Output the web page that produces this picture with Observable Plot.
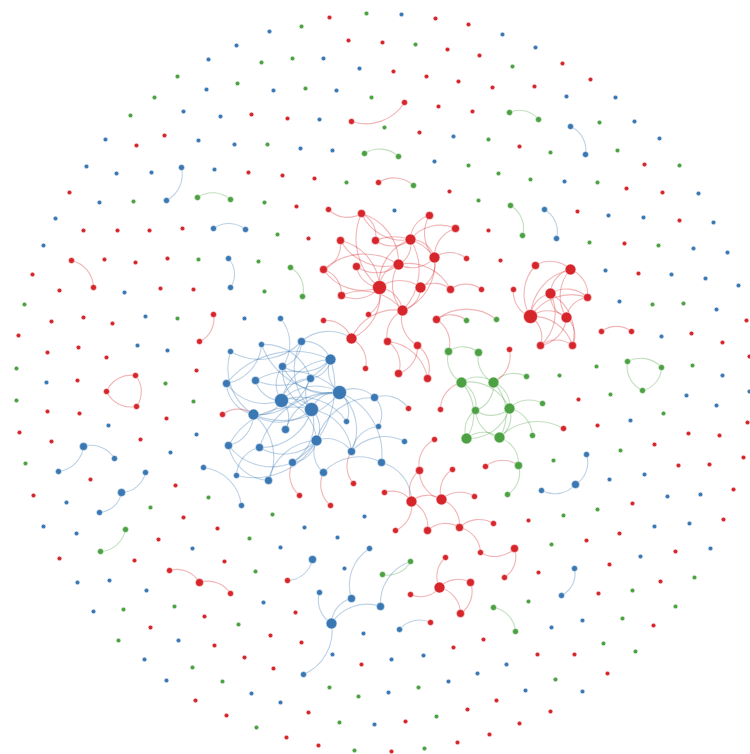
<!DOCTYPE html>
<html>
<head>
<meta charset="utf-8">
<script src="https://cdn.jsdelivr.net/npm/d3@7"></script>
<script src="https://cdn.jsdelivr.net/npm/@observablehq/plot@0.6"></script>
<style>
  html, body { margin: 0; padding: 0; background: #fff; }
  #chart svg { display: block; }
</style>
</head>
<body>
<div id="chart"></div>
<script>
// Force-layout positions of each node, grouped by community: [x, y, weight]
// weight: 1 = isolated, 2..5 = increasingly connected
const redNodes = [
  [164,135,1],[136,145,1],[248,172,1],[69,192,1],[83,230,1],[117,230,1],[149,230,1],[182,228,1],[251,114,1],
  [329,17,1],[435,18,1],[468,24,1],[348,40,1],[382,42,1],[447,49,1],[479,55,1],[393,71,1],[426,76,1],[458,81,1],[492,87,1],
  [438,106,1],[472,111,1],[287,118,1],[419,132,1],[282,175,1],[314,178,1],[449,191,1],[296,206,1],[308,238,1],[488,230,1],
  [562,63,1],[590,79,1],[534,86,1],[519,146,1],[644,164,1],[626,188,1],[662,192,1],[577,211,1],[679,220,1],[624,243,1],[500,260,1],
  [32,274,1],[104,259,1],[135,262,1],[167,258,1],[59,290,1],[160,288,1],[193,289,1],[51,321,1],[83,317,1],[112,323,1],[18,335,1],
  [47,352,1],[78,347,1],[106,357,1],[77,380,1],[196,370,1],[47,411,1],[79,413,1],[166,418,1],[19,432,1],[51,441,1],[140,439,1],
  [90,479,1],[33,495,1],[175,485,1],
  [638,273,1],[746,320,1],[691,333,1],[722,342,1],[749,356,1],[578,399,1],[747,422,1],[597,425,1],[688,433,1],[719,435,1],
  [654,444,1],[678,465,1],[709,464,1],[743,457,1],[733,489,1],[632,503,1],
  [183,517,1],[217,528,1],[158,539,1],[59,558,1],[134,560,1],[224,561,1],[204,616,1],[150,627,1],[214,645,1],[244,657,1],[195,700,1],[226,715,1],
  [295,612,1],[270,635,1],[301,642,1],[483,639,1],[453,647,1],[273,668,1],[361,664,1],[496,700,1],[308,712,1],[467,709,1],
  [405,721,1],[489,734,1],[286,737,1],[318,745,1],[391,751,1],[457,742,1],
  [528,520,1],[723,519,1],[619,533,1],[586,540,1],[675,551,1],[609,564,1],[538,572,1],[660,581,1],[598,593,1],[653,625,1],
  [537,654,1],[574,654,1],[607,673,1],[550,711,1],[519,723,1],
  [404,102,2],[351,121,2],[378,182,2],[71,260,2],[93,287,2],[213,314,2],[199,341,2],[106,391,2],[135,375,2],[136,406,2],
  [222,414,2],[601,331,2],[631,331,2],[169,570,2],[230,593,2],[287,580,2],[430,622,2],[504,577,2],[480,552,2],[445,557,2],
  [410,594,2],[395,530,2],[493,523,2],[328,209,2],[481,289,2],[368,314,2],[323,320,2],[365,368,2],[408,408,2],[440,409,2],
  [434,439,2],[452,469,2],[353,483,2],[299,495,2],[384,492,2],[330,505,2],[474,496,2],[485,466,2],[509,349,2],[563,428,2],
  [466,258,2],[513,289,2],
  [199,582,3],[361,213,3],[429,215,3],[455,228,3],[340,240,3],[375,240,3],[323,269,3],[356,266,3],[450,289,3],[341,295,3],
  [436,319,3],[387,341,3],[417,345,3],[398,373,3],[427,378,3],[427,530,3],[459,527,3],[514,548,3],[470,582,3],[460,613,3],
  [535,265,3],[587,297,3],[540,345,3],[572,345,3],[419,470,3],
  [410,239,4],[398,264,4],[434,257,4],[420,287,4],[402,310,4],[351,338,4],[411,501,4],[441,499,4],[439,587,4],[570,269,4],
  [550,293,4],[566,317,4],
  [379,287,5],[530,316,5]
];

const blueNodes = [
  [236,45,1],[208,59,1],[206,89,1],[183,111,1],[220,116,1],[105,139,1],[198,140,1],[234,144,1],[86,166,1],[116,173,1],
  [151,172,1],[214,169,1],[99,202,1],[55,218,1],[43,245,1],
  [401,14,1],[269,31,1],[323,58,1],[359,68,1],[273,90,1],[336,90,1],[319,119,1],[453,136,1],[300,148,1],[332,150,1],[434,161,1],[394,210,1],
  [502,34,1],[535,47,1],[566,96,1],[615,97,1],[634,121,1],[659,138,1],[564,181,1],[698,193,1],[608,215,1],[643,217,1],[713,222,1],[693,248,1],[727,252,1],
  [124,292,1],[145,316,1],[244,318,1],[137,345,1],[167,350,1],[46,382,1],[108,425,1],[196,434,1],[170,452,1],[66,502,1],
  [605,270,1],[671,274,1],[705,278,1],[738,285,1],[619,301,1],[716,309,1],[661,336,1],[722,375,1],[749,391,1],[686,395,1],
  [716,405,1],[630,420,1],[609,479,1],[644,474,1],[667,496,1],[700,494,1],
  [43,526,1],[76,533,1],[192,548,1],[77,582,1],[109,580,1],[146,590,1],[93,611,1],[178,640,1],[144,659,1],[166,680,1],[251,693,1],
  [364,516,1],[304,527,1],[337,537,1],[280,547,1],[344,568,1],[263,602,1],[363,633,1],[332,654,1],[391,659,1],[423,655,1],
  [477,673,1],[448,681,1],[280,702,1],[388,692,1],[374,724,1],
  [654,526,1],[689,523,1],[710,548,1],[640,556,1],[582,620,1],[551,627,1],[506,664,1],[525,690,1],[582,691,1],
  [181,167,2],[166,200,2],[213,228,2],[245,229,2],[570,126,2],[585,154,2],[544,209,2],[556,238,2],[228,258,2],[230,287,2],
  [114,458,2],[58,471,2],[203,467,2],[145,472,2],[99,512,2],[586,454,2],[541,490,2],[574,568,2],[561,595,2],[369,548,2],
  [319,592,2],[399,629,2],[303,674,2],[230,351,2],[241,505,2],[261,344,2],[236,475,2],[346,421,2],[378,426,2],[404,441,2],[280,318,2],
  [83,446,3],[121,492,3],[575,484,3],[312,559,3],[351,598,3],[380,606,3],[226,383,3],[255,380,3],[228,445,3],[259,447,3],
  [268,480,3],[301,341,3],[282,366,3],[310,378,3],[374,397,3],[285,429,3],[351,451,3],[292,462,3],[381,462,3],[323,472,3],
  [331,623,4],[253,414,4],[330,359,4],[316,440,4],
  [339,392,5],[281,400,5],[311,409,5]
];

const greenNodes = [
  [177,76,1],[237,83,1],[154,97,1],[130,115,1],[133,201,1],
  [366,13,1],[301,26,1],[415,44,1],[261,62,1],[292,58,1],[305,88,1],[371,97,1],[384,127,1],[488,139,1],[267,144,1],
  [468,165,1],[498,173,1],[346,182,1],[264,202,1],[478,200,1],[277,234,1],
  [512,66,1],[599,122,1],[550,152,1],[617,150,1],[679,165,1],[530,179,1],[597,182,1],[589,242,1],[658,245,1],
  [198,259,1],[24,304,1],[177,318,1],[16,368,1],[165,383,1],[16,400,1],[193,401,1],[25,463,1],[208,497,1],[258,261,1],[264,291,1],
  [652,304,1],[683,303,1],[596,366,1],[692,365,1],[610,394,1],[663,413,1],[620,450,1],[553,460,1],[559,375,1],
  [150,507,1],[249,538,1],[174,606,1],[123,609,1],[238,624,1],[118,640,1],[192,667,1],[222,681,1],
  [272,514,1],[255,571,1],[329,687,1],[418,687,1],[358,696,1],[436,716,1],[256,727,1],[339,722,1],[354,750,1],[424,748,1],
  [597,509,1],[563,515,1],[551,544,1],[694,577,1],[632,590,1],[528,601,1],[675,606,1],[622,618,1],[603,643,1],[635,651,1],[555,679,1],
  [197,197,2],[230,199,2],[364,153,2],[398,156,2],[413,185,2],[509,112,2],[538,119,2],[510,205,2],[522,235,2],[290,267,2],
  [302,296,2],[627,361,2],[661,367,2],[642,390,2],[125,529,2],[100,551,2],[410,561,2],[382,574,2],[493,607,2],[515,631,2],
  [466,320,2],[496,319,2],[526,376,2],[542,403,2],[532,435,2],[507,494,2],
  [448,351,3],[478,352,3],[475,410,3],[518,465,3],
  [461,382,4],[493,382,4],[509,408,4],[466,438,4],[499,437,4]
];

// Edges, as [source, target] node keys "x,y"; an edge takes its source's colour
const edgePairs = [
  // small components
  ["404,102","351,121"],["364,153","398,156"],["378,182","413,185"],["181,167","166,200"],["197,197","230,199"],
  ["213,228","245,229"],["509,112","538,119"],["570,126","585,154"],["510,205","522,235"],["544,209","556,238"],
  ["71,260","93,287"],["228,258","230,287"],["213,314","199,341"],
  ["106,391","135,375"],["135,375","136,406"],["136,406","106,391"],
  ["290,267","302,296"],["601,331","631,331"],
  ["627,361","661,367"],["661,367","642,390"],["642,390","627,361"],
  ["83,446","114,458"],["83,446","58,471"],["145,472","121,492"],["121,492","99,512"],["125,529","100,551"],
  ["169,570","199,582"],["199,582","230,593"],["586,454","575,484"],["575,484","541,490"],["574,568","561,595"],
  ["312,559","287,580"],["331,623","319,592"],["331,623","351,598"],["331,623","380,606"],["331,623","303,674"],
  ["351,598","369,548"],["380,606","410,561"],["410,561","382,574"],["399,629","430,622"],
  ["514,548","504,577"],["514,548","480,552"],["203,467","241,505"],["493,607","515,631"],
  ["436,319","466,320"],["436,319","496,319"],["436,319","448,351"],["323,320","351,338"],
  // blue community
  ["281,400","311,409"],["281,400","339,392"],["311,409","339,392"],["281,400","253,414"],["281,400","255,380"],
  ["281,400","282,366"],["281,400","310,378"],["281,400","285,429"],["281,400","316,440"],["281,400","226,383"],["281,400","330,359"],
  ["311,409","301,341"],["311,409","310,378"],["311,409","316,440"],["311,409","253,414"],["311,409","259,447"],
  ["311,409","351,451"],["311,409","282,366"],["311,409","292,462"],
  ["339,392","330,359"],["339,392","374,397"],["339,392","346,421"],["339,392","253,414"],["339,392","282,366"],
  ["339,392","261,344"],["339,392","351,451"],["339,392","381,462"],
  ["253,414","226,383"],["253,414","228,445"],["253,414","268,480"],["253,414","230,351"],
  ["330,359","282,366"],["330,359","255,380"],["330,359","310,378"],["330,359","292,462"],
  ["316,440","259,447"],["316,440","292,462"],["316,440","351,451"],["316,440","236,475"],
  ["261,344","226,383"],["301,341","282,366"],["301,341","230,351"],["280,318","282,366"],
  ["374,397","378,426"],["351,451","404,441"],["292,462","228,445"],["268,480","228,445"],["236,475","259,447"],
  ["323,472","316,440"],["381,462","411,501"],["374,397","408,408"],["301,341","351,338"],
  ["226,383","330,359"],["255,380","339,392"],["228,445","311,409"],["259,447","339,392"],["285,429","339,392"],
  ["310,378","253,414"],["261,344","310,378"],["301,341","330,359"],["316,440","374,397"],["351,451","378,426"],
  ["281,400","346,421"],["323,472","381,462"],["268,480","316,440"],
  ["330,505","323,472"],["299,495","292,462"],["353,483","351,451"],["222,414","253,414"],
  // upper red community
  ["379,287","323,269"],["379,287","341,295"],["379,287","356,266"],["379,287","361,213"],["379,287","398,264"],
  ["379,287","420,287"],["379,287","402,310"],["379,287","368,314"],["379,287","351,338"],["379,287","410,239"],
  ["410,239","361,213"],["410,239","429,215"],["410,239","455,228"],["410,239","375,240"],["410,239","398,264"],
  ["410,239","434,257"],["410,239","402,310"],
  ["434,257","455,228"],["434,257","398,264"],["434,257","420,287"],["434,257","402,310"],["434,257","429,215"],["434,257","466,258"],
  ["398,264","340,240"],["398,264","356,266"],["398,264","450,289"],["420,287","450,289"],["450,289","481,289"],
  ["361,213","328,209"],["361,213","375,240"],["340,240","323,269"],["323,269","341,295"],["402,310","398,264"],
  ["361,213","398,264"],["375,240","434,257"],["340,240","379,287"],["323,269","398,264"],["420,287","402,310"],["341,295","402,310"],
  ["351,338","365,368"],["351,338","402,310"],
  ["387,341","402,310"],["387,341","427,378"],["387,341","398,373"],["417,345","398,373"],["417,345","427,378"],["417,345","402,310"],
  // right red community
  ["530,316","535,265"],["530,316","550,293"],["530,316","570,269"],["530,316","566,317"],["530,316","540,345"],
  ["530,316","572,345"],["530,316","587,297"],["530,316","513,289"],
  ["566,317","550,293"],["566,317","570,269"],["566,317","587,297"],["566,317","540,345"],["566,317","572,345"],
  ["550,293","570,269"],["550,293","587,297"],["550,293","540,345"],["550,293","572,345"],
  ["535,265","570,269"],["570,269","587,297"],["540,345","572,345"],
  // green community
  ["461,382","493,382"],["461,382","475,410"],["461,382","509,408"],["461,382","466,438"],["461,382","448,351"],["440,409","461,382"],
  ["493,382","509,408"],["493,382","475,410"],["493,382","499,437"],["493,382","526,376"],["493,382","478,352"],["509,349","493,382"],
  ["509,408","475,410"],["509,408","466,438"],["509,408","499,437"],["509,408","542,403"],["509,408","532,435"],
  ["466,438","475,410"],["466,438","499,437"],["499,437","518,465"],["499,437","475,410"],["499,437","563,428"],
  ["448,351","478,352"],["485,466","518,465"],["518,465","507,494"],
  // lower red community
  ["411,501","419,470"],["419,470","434,439"],["411,501","441,499"],["441,499","452,469"],["441,499","419,470"],
  ["441,499","459,527"],["411,501","427,530"],["427,530","459,527"],["459,527","493,523"],["459,527","480,552"],
  ["411,501","395,530"],["441,499","474,496"],["384,492","411,501"],
  ["439,587","410,594"],["439,587","470,582"],["439,587","460,613"],["439,587","445,557"],["470,582","460,613"]
];

const groupNames = ["red", "blue", "green"];
const groupColors = ["#d7262b", "#3a78b4", "#4ca243"];

// build the node table
const nodes = [];
[redNodes, blueNodes, greenNodes].forEach((list, g) => {
  for (const [x, y, w] of list) nodes.push({key: `${x},${y}`, x, y, weight: w, group: groupNames[g]});
});
const byKey = new Map(nodes.map(d => [d.key, d]));

const links = [];
for (const [s, t] of edgePairs) {
  const a = byKey.get(s), b = byKey.get(t);
  if (!a || !b) { console.warn("missing node", s, t); continue; }
  links.push({source: a, target: b, group: a.group});
}

const colorOf = Object.fromEntries(groupNames.map((n, i) => [n, groupColors[i]]));

const chart = Plot.plot({
  width: 750,
  height: 754,
  margin: 0,
  style: {background: "#fff"},
  x: {domain: [0, 750], range: [0, 750], axis: null},
  y: {domain: [0, 754], range: [0, 754], axis: null},
  r: {domain: [1, 2, 3, 4, 5], range: [2.3, 3.0, 4.0, 5.4, 7], type: "linear"},
  marks: [
    Plot.arrow(links, {
      x1: d => d.source.x, y1: d => d.source.y,
      x2: d => d.target.x, y2: d => d.target.y,
      bend: 38,
      headLength: 0,
      stroke: d => colorOf[d.group],
      strokeOpacity: 0.34,
      strokeWidth: 1.1
    }),
    Plot.dot(nodes, {
      x: "x", y: "y", r: "weight",
      fill: d => colorOf[d.group],
      stroke: "#fff",
      strokeWidth: 0.6,
      strokeOpacity: 0.8
    })
  ]
});

document.getElementById("chart").append(chart);
</script>
</body>
</html>
